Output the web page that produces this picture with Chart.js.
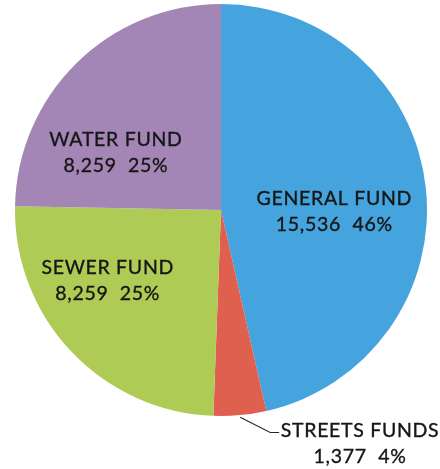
<!DOCTYPE html>
<html>
<head>
<meta charset="utf-8">
<script src="https://cdn.jsdelivr.net/npm/chart.js@4.4.0/dist/chart.umd.min.js"></script>
<style>
  html, body { margin: 0; padding: 0; background: #fff; }
  canvas { display: block; }
</style>
</head>
<body>
<canvas id="funds" width="440" height="469"></canvas>
<script>
const funds = ['GENERAL FUND', 'STREETS FUNDS', 'SEWER FUND', 'WATER FUND'];
const amounts = [15536, 1377, 8259, 8259];
const percents = ['46%', '4%', '25%', '25%'];
const sliceColors = ['#45a3dd', '#e0604f', '#aecb55', '#a386b6'];

// where each label block sits, as a fraction of the pie radius from its centre
const labelSpots = [
  { dx: 0.55, dy: 0.01 },
  { dx: 0.675, dy: 1.135 },
  { dx: -0.55, dy: 0.345 },
  { dx: -0.51, dy: -0.28 },
];

const sliceLabels = {
  id: 'sliceLabels',
  afterDatasetsDraw(chart) {
    const ctx = chart.ctx;
    const arcs = chart.getDatasetMeta(0).data;
    ctx.save();
    ctx.fillStyle = '#161616';
    ctx.strokeStyle = '#161616';
    ctx.textAlign = 'center';
    ctx.textBaseline = 'middle';
    ctx.font = '19.5px Lato';
    ctx.letterSpacing = '0.7px';
    ctx.lineWidth = 0.35;

    arcs.forEach((arc, i) => {
      const r = arc.outerRadius;
      const x = arc.x + labelSpots[i].dx * r;
      const y = arc.y + labelSpots[i].dy * r;
      const amount = amounts[i].toLocaleString('en-US');
      const lines = [funds[i], amount + '  ' + percents[i]];
      lines.forEach((t, k) => {
        const ty = y + (k === 0 ? -13 : 13);
        ctx.fillText(t, x, ty);
        ctx.strokeText(t, x, ty);
      });
    });

    // leader line for the thin streets slice
    const s = arcs[1];
    const mid = (s.startAngle + s.endAngle) / 2;
    const sx = s.x + Math.cos(mid) * s.outerRadius * 1.01;
    const sy = s.y + Math.sin(mid) * s.outerRadius * 1.01;
    const ly = s.y + s.outerRadius * 1.08;
    ctx.strokeStyle = '#2a2a2a';
    ctx.lineWidth = 1.2;
    ctx.beginPath();
    ctx.moveTo(sx, sy);
    ctx.lineTo(sx + 30, ly);
    ctx.lineTo(sx + 39, ly);
    ctx.stroke();
    ctx.restore();
  }
};

new Chart(document.getElementById('funds'), {
  type: 'pie',
  data: {
    labels: funds,
    datasets: [{
      data: amounts,
      backgroundColor: sliceColors,
      borderWidth: 0,
    }],
  },
  options: {
    responsive: false,
    animation: false,
    layout: { padding: { top: 4, left: 15, right: 13, bottom: 53 } },
    plugins: {
      legend: { display: false },
      tooltip: { enabled: false },
    },
  },
  plugins: [sliceLabels],
});
</script>
</body>
</html>
